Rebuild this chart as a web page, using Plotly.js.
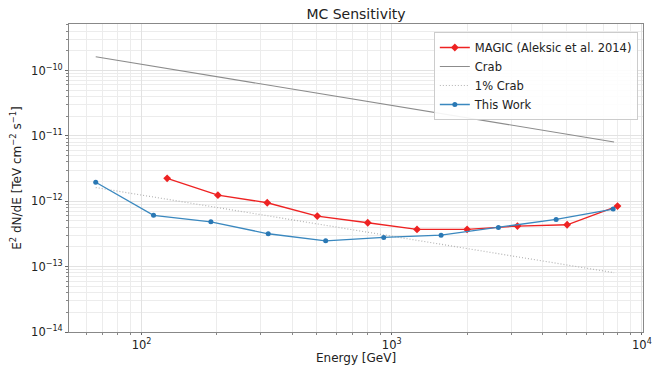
<!DOCTYPE html>
<html>
<head>
<meta charset="utf-8">
<script src="https://cdn.plot.ly/plotly-3.0.1.min.js"></script>
<style>html,body{margin:0;padding:0;background:#fff;}#chart{width:665px;height:365px;}</style>
</head>
<body>
<div id="chart"></div>
<script>
// Data
const magicEnergy = [126.6, 202, 318, 504, 802, 1262, 2001, 3180, 5025, 7987];
const magicSens = [2.24e-12, 1.24e-12, 9.48e-13, 5.93e-13, 4.69e-13, 3.71e-13, 3.71e-13, 4.17e-13, 4.37e-13, 8.43e-13];
const workEnergy = [65.6, 111.7, 189.3, 320.9, 544.5, 929, 1575, 2670, 4541, 7678];
const workSens = [1.95e-12, 6.08e-13, 4.85e-13, 3.18e-13, 2.48e-13, 2.80e-13, 3.03e-13, 3.98e-13, 5.28e-13, 7.59e-13];
const crabEnergy = [65.6, 1000, 7740];
const crabFlux = [1.62e-10, 2.91e-11, 8.07e-12];
const crab1Flux = [1.62e-12, 2.91e-13, 8.07e-14];
const xTickVals = [100, 1000, 10000];
const xTickText = ['10<sup>2</sup>', '10<sup>3</sup>', '10<sup>4</sup>'];
const yTickVals = [1e-14, 1e-13, 1e-12, 1e-11, 1e-10];
const yTickText = ['10<sup>−14</sup>', '10<sup>−13</sup>', '10<sup>−12</sup>', '10<sup>−11</sup>', '10<sup>−10</sup>'];
const xTitle = 'Energy [GeV]';

function minorVals(lo, hi) {
  const out = [];
  for (let e = lo; e <= hi; e++) for (let m = 2; m <= 9; m++) out.push(m * Math.pow(10, e));
  return out;
}

const FAM = 'DejaVu Sans, sans-serif';

const traces = [
  {x: magicEnergy, y: magicSens, name: 'MAGIC (Aleksic et al. 2014)', mode: 'lines+markers',
   line: {color: '#ee2222', width: 1.3}, marker: {symbol: 'diamond', size: 6, color: '#ee2222'}},
  {x: crabEnergy, y: crabFlux, name: 'Crab', mode: 'lines', line: {color: '#8c8c8c', width: 1.1}},
  {x: crabEnergy, y: crab1Flux, name: '1% Crab', mode: 'lines', line: {color: '#b4b4b4', width: 1.2, dash: '1px,2px'}},
  {x: workEnergy, y: workSens, name: 'This Work', mode: 'lines+markers',
   line: {color: '#3a88bf', width: 1.3}, marker: {symbol: 'circle', size: 5, color: '#2a78b4'}}
];

const layout = {
  width: 665, height: 365,
  margin: {l: 69, r: 22, t: 24, b: 33},
  paper_bgcolor: '#fff', plot_bgcolor: '#fff',
  font: {family: FAM, size: 12, color: '#222'},
  showlegend: true,
  title: {text: 'MC Sensitivity', font: {family: FAM, size: 14, color: '#222'},
          x: 0.5, xref: 'paper', xanchor: 'center', y: 0.962, yref: 'container', yanchor: 'middle'},
  xaxis: {
    type: 'log', range: [Math.log10(51.3), Math.log10(10100)],
    tickmode: 'array', tickvals: xTickVals, ticktext: xTickText,
    ticks: 'outside', ticklen: 2, tickcolor: '#666',
    showgrid: true, gridcolor: '#e2e2e2', gridwidth: 1,
    minor: {tickmode: 'array', tickvals: minorVals(1, 3), showgrid: true, gridcolor: '#ececec', ticks: 'outside', ticklen: 2, tickcolor: '#888'},
    showline: true, linecolor: '#888', linewidth: 1, mirror: true,
    zeroline: false,
    tickfont: {family: FAM, size: 11.5, color: '#222'}
  },
  yaxis: {
    type: 'log', range: [-14, -9.289],
    tickmode: 'array', tickvals: yTickVals, ticktext: yTickText,
    ticks: 'outside', ticklen: 3, tickcolor: '#666',
    showgrid: true, gridcolor: '#e2e2e2', gridwidth: 1,
    minor: {tickmode: 'array', tickvals: minorVals(-14, -10), showgrid: true, gridcolor: '#ececec', ticks: 'outside', ticklen: 2, tickcolor: '#888'},
    showline: true, linecolor: '#888', linewidth: 1, mirror: true,
    zeroline: false,
    tickfont: {family: FAM, size: 11.5, color: '#222'},
    title: {text: 'E<sup>2</sup> dN/dE [TeV cm<sup>−2</sup> s<sup>−1</sup>]', font: {family: FAM, size: 12, color: '#222'}, standoff: 6}
  },
  annotations: [{
    text: xTitle, xref: 'paper', yref: 'paper', x: 0.5, y: -0.083, xanchor: 'center', yanchor: 'middle',
    showarrow: false, font: {family: FAM, size: 12, color: '#222'}
  }],
  legend: {
    x: 0.991, xanchor: 'right', y: 0.974, yanchor: 'top',
    bgcolor: 'rgba(255,255,255,0.9)', bordercolor: '#cccccc', borderwidth: 1,
    font: {family: FAM, size: 11.5, color: '#222'},
    tracegroupgap: 0, itemwidth: 30
  }
};

Plotly.newPlot('chart', traces, layout, {displayModeBar: false, staticPlot: true});
</script>
</body>
</html>
